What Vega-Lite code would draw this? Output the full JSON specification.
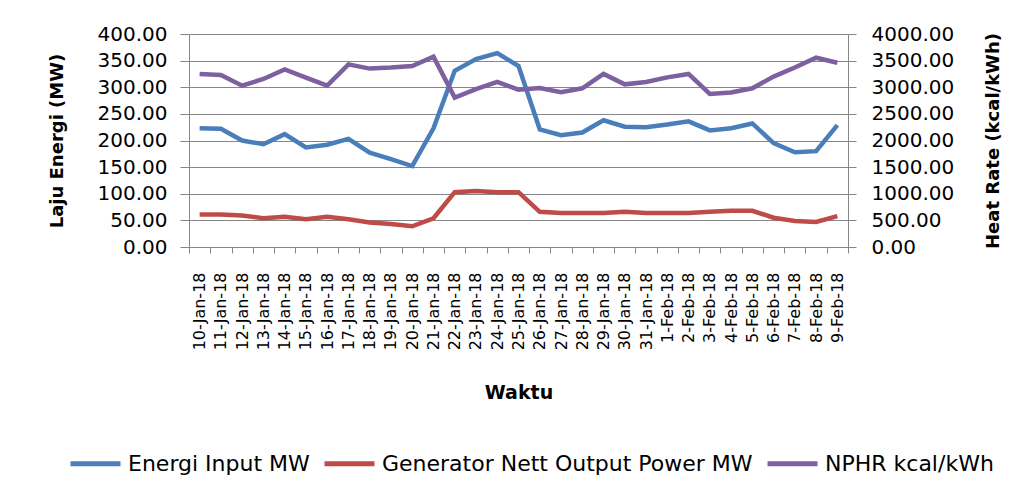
{
  "$schema": "https://vega.github.io/schema/vega-lite/v6.json",
  "autosize": {"type": "none"},
  "width": 659,
  "height": 213,
  "padding": {"left": 189, "top": 34, "right": 186, "bottom": 250},
  "background": "white",
  "data": {
    "values": [
      {"date": "10-Jan-18", "energi": 223, "gen": 61, "nphr": 3250},
      {"date": "11-Jan-18", "energi": 222, "gen": 61, "nphr": 3230},
      {"date": "12-Jan-18", "energi": 200, "gen": 59, "nphr": 3030},
      {"date": "13-Jan-18", "energi": 193, "gen": 54, "nphr": 3155},
      {"date": "14-Jan-18", "energi": 212, "gen": 57, "nphr": 3335},
      {"date": "15-Jan-18", "energi": 187, "gen": 52, "nphr": 3180},
      {"date": "16-Jan-18", "energi": 192, "gen": 57, "nphr": 3030},
      {"date": "17-Jan-18", "energi": 203, "gen": 52, "nphr": 3430},
      {"date": "18-Jan-18", "energi": 177, "gen": 46, "nphr": 3350},
      {"date": "19-Jan-18", "energi": 165, "gen": 43, "nphr": 3370},
      {"date": "20-Jan-18", "energi": 152, "gen": 39, "nphr": 3400},
      {"date": "21-Jan-18", "energi": 223, "gen": 54, "nphr": 3575},
      {"date": "22-Jan-18", "energi": 331, "gen": 103, "nphr": 2805},
      {"date": "23-Jan-18", "energi": 353, "gen": 105, "nphr": 2965},
      {"date": "24-Jan-18", "energi": 364, "gen": 103, "nphr": 3100},
      {"date": "25-Jan-18", "energi": 340, "gen": 103, "nphr": 2955},
      {"date": "26-Jan-18", "energi": 221, "gen": 66, "nphr": 2985},
      {"date": "27-Jan-18", "energi": 210, "gen": 64, "nphr": 2905},
      {"date": "28-Jan-18", "energi": 215, "gen": 64, "nphr": 2980},
      {"date": "29-Jan-18", "energi": 238, "gen": 64, "nphr": 3250},
      {"date": "30-Jan-18", "energi": 226, "gen": 66, "nphr": 3055},
      {"date": "31-Jan-18", "energi": 225, "gen": 64, "nphr": 3100},
      {"date": "1-Feb-18", "energi": 230, "gen": 64, "nphr": 3185},
      {"date": "2-Feb-18", "energi": 236, "gen": 64, "nphr": 3250},
      {"date": "3-Feb-18", "energi": 219, "gen": 66, "nphr": 2875},
      {"date": "4-Feb-18", "energi": 223, "gen": 68, "nphr": 2900},
      {"date": "5-Feb-18", "energi": 232, "gen": 68, "nphr": 2980},
      {"date": "6-Feb-18", "energi": 195, "gen": 55, "nphr": 3200},
      {"date": "7-Feb-18", "energi": 178, "gen": 49, "nphr": 3370},
      {"date": "8-Feb-18", "energi": 180, "gen": 47, "nphr": 3555},
      {"date": "9-Feb-18", "energi": 229, "gen": 58, "nphr": 3460}
    ]
  },
  "encoding": {
    "x": {
      "field": "date",
      "type": "ordinal",
      "sort": null,
      "bandPosition": 0.5,
      "scale": {"type": "band", "paddingInner": 0, "paddingOuter": 0},
      "axis": {
        "title": "Waktu",
        "titleFont": "DejaVu Sans",
        "titleFontWeight": "bold",
        "titleFontSize": 19,
        "titleColor": "#000000",
        "titlePadding": 34,
        "labelAngle": 270,
        "labelFont": "DejaVu Sans",
        "labelFontSize": 16,
        "labelColor": "#000000",
        "labelPadding": 19,
        "labelOverlap": false,
        "tickBand": "extent",
        "tickSize": 6,
        "tickColor": "#868686",
        "domainColor": "#868686",
        "grid": false
      }
    },
    "color": {
      "scale": {
        "domain": ["Energi Input MW", "Generator Nett Output Power MW", "NPHR kcal/kWh"],
        "range": ["#4A7EBB", "#BE4B48", "#7D60A0"]
      },
      "legend": {
        "title": null,
        "orient": "none",
        "direction": "horizontal",
        "legendX": -121,
        "legendY": 402,
        "symbolType": "stroke",
        "symbolSize": 2500,
        "symbolStrokeWidth": 5,
        "labelFont": "DejaVu Sans",
        "labelFontSize": 22,
        "labelColor": "#000000",
        "labelLimit": 600,
        "labelOffset": 5,
        "columnPadding": 4
      }
    }
  },
  "layer": [
    {
      "encoding": {
        "y": {
          "type": "quantitative",
          "scale": {"domain": [0, 400], "nice": false},
          "axis": {
            "title": "Laju Energi (MW)",
            "titleFont": "DejaVu Sans",
            "titleFontWeight": "bold",
            "titleFontSize": 18,
            "titleColor": "#000000",
            "titlePadding": 31,
            "values": [0, 50, 100, 150, 200, 250, 300, 350, 400],
            "format": ".2f",
            "labelFont": "DejaVu Sans",
            "labelFontSize": 20,
            "labelColor": "#000000",
            "labelPadding": 13,
            "tickSize": 9,
            "tickColor": "#868686",
            "domainColor": "#868686",
            "grid": true,
            "gridColor": "#868686",
            "gridWidth": 1
          }
        }
      },
      "layer": [
        {
          "mark": {"type": "line", "strokeWidth": 4.5},
          "encoding": {
            "y": {"field": "energi", "type": "quantitative"},
            "color": {"datum": "Energi Input MW"}
          }
        },
        {
          "mark": {"type": "line", "strokeWidth": 4.5},
          "encoding": {
            "y": {"field": "gen", "type": "quantitative"},
            "color": {"datum": "Generator Nett Output Power MW"}
          }
        }
      ]
    },
    {
      "mark": {"type": "line", "strokeWidth": 4.5},
      "encoding": {
        "y": {
          "field": "nphr",
          "type": "quantitative",
          "scale": {"domain": [0, 4000], "nice": false},
          "axis": {
            "orient": "right",
            "title": "Heat Rate (kcal/kWh)",
            "titleFont": "DejaVu Sans",
            "titleFontWeight": "bold",
            "titleFontSize": 18,
            "titleColor": "#000000",
            "titleAngle": 270,
            "titleBaseline": "top",
            "titlePadding": 31,
            "values": [0, 500, 1000, 1500, 2000, 2500, 3000, 3500, 4000],
            "format": ".2f",
            "labelFont": "DejaVu Sans",
            "labelFontSize": 20,
            "labelColor": "#000000",
            "labelPadding": 15,
            "tickSize": 8,
            "tickColor": "#868686",
            "domainColor": "#868686",
            "grid": false
          }
        },
        "color": {"datum": "NPHR kcal/kWh"}
      }
    }
  ],
  "resolve": {"scale": {"y": "independent"}},
  "config": {
    "view": {"stroke": null}
  }
}
